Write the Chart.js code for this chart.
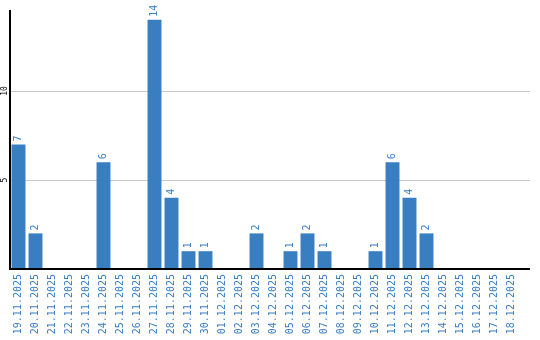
<!DOCTYPE html>
<html><head><meta charset="utf-8">
<script src="https://cdn.jsdelivr.net/npm/chart.js@4/dist/chart.umd.min.js"></script>
<style>html,body{margin:0;padding:0;background:#fff}canvas{display:block}</style>
</head><body>
<canvas id="c" width="540" height="340"></canvas>
<script>
const categories = ["19.11.2025","20.11.2025","21.11.2025","22.11.2025","23.11.2025","24.11.2025","25.11.2025","26.11.2025","27.11.2025","28.11.2025","29.11.2025","30.11.2025","01.12.2025","02.12.2025","03.12.2025","04.12.2025","05.12.2025","06.12.2025","07.12.2025","08.12.2025","09.12.2025","10.12.2025","11.12.2025","12.12.2025","13.12.2025","14.12.2025","15.12.2025","16.12.2025","17.12.2025","18.12.2025"];
const values = [7,2,0,0,0,6,0,0,14,4,1,1,0,0,2,0,1,2,1,0,0,1,6,4,2,0,0,0,0,0];
const yTicks = [5,10];
const BLUE = '#3a7ec2';

const decor = {
  id: 'decor',
  beforeDatasetsDraw(chart) {
    const {ctx, chartArea: a, scales: {y}} = chart;
    ctx.save();
    ctx.strokeStyle = '#c8c8c8'; ctx.lineWidth = 1;
    yTicks.forEach(v => {
      const py = Math.round(y.getPixelForValue(v)) + 0.5;
      ctx.beginPath(); ctx.moveTo(a.left, py); ctx.lineTo(a.right + 10, py); ctx.stroke();
    });
    ctx.fillStyle = '#000'; ctx.font = '8px "DejaVu Sans Mono"';
    ctx.textAlign = 'center'; ctx.textBaseline = 'middle';
    yTicks.forEach(v => {
      const py = y.getPixelForValue(v);
      ctx.save(); ctx.translate(4.5, py); ctx.rotate(-Math.PI/2); ctx.fillText(String(v), 0, 0); ctx.restore();
    });
    ctx.restore();
  },
  afterDatasetsDraw(chart) {
    const {ctx, chartArea: a} = chart;
    ctx.save();
    ctx.strokeStyle = '#000'; ctx.lineWidth = 2;
    ctx.beginPath(); ctx.moveTo(a.left, a.top); ctx.lineTo(a.left, a.bottom); ctx.lineTo(a.right + 10, a.bottom); ctx.stroke();
    ctx.fillStyle = BLUE; ctx.font = '10px "DejaVu Sans Mono"';
    ctx.textAlign = 'left'; ctx.textBaseline = 'middle';
    chart.getDatasetMeta(0).data.forEach((bar, i) => {
      if (!values[i]) return;
      ctx.save(); ctx.translate(bar.x, bar.y - 3); ctx.rotate(-Math.PI/2); ctx.fillText(String(values[i]), 0, 0); ctx.restore();
    });
    ctx.restore();
  }
};

new Chart(document.getElementById('c'), {
  type: 'bar',
  data: { labels: categories, datasets: [{ data: values, backgroundColor: BLUE, borderWidth: 0, barPercentage: 0.82, categoryPercentage: 1 }] },
  options: {
    responsive: false, animation: false,
    layout: { padding: { top: 10, right: 20, left: 0, bottom: 0 } },
    plugins: { legend: { display: false }, tooltip: { enabled: false } },
    scales: {
      x: {
        grid: { display: false, drawTicks: false }, border: { display: false },
        ticks: { color: BLUE, font: { family: 'DejaVu Sans Mono', size: 10 }, minRotation: 90, maxRotation: 90, autoSkip: false, padding: 5 },
        afterFit(s) { s.height = 71; }
      },
      y: {
        min: 0, max: 14.55,
        grid: { display: false }, border: { display: false },
        ticks: { display: false, stepSize: 5 },
        afterFit(s) { s.width = 10; }
      }
    }
  },
  plugins: [decor]
});
</script>
</body></html>
